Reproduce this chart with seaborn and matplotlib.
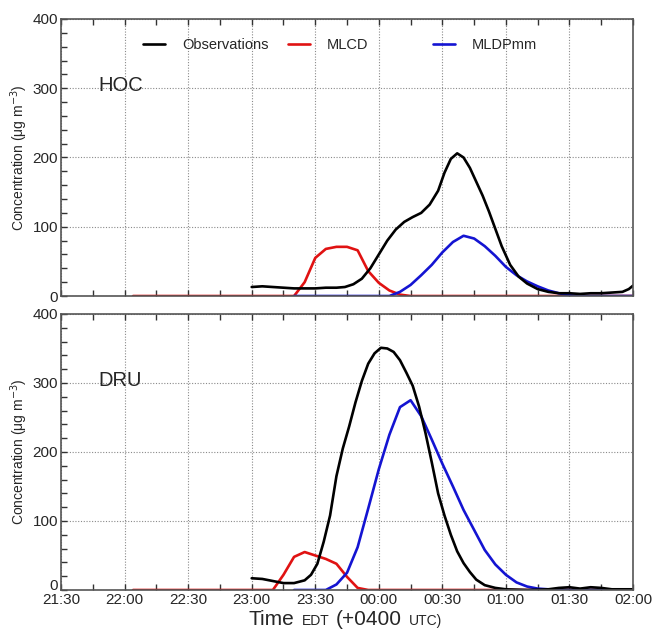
import numpy as np
import pandas as pd
import seaborn as sns
import matplotlib
matplotlib.use('Agg')
import matplotlib.pyplot as plt
import matplotlib.transforms as mtransforms
from matplotlib.ticker import MultipleLocator, FuncFormatter
from matplotlib.offsetbox import TextArea, HPacker, AnnotationBbox

# HOC station
hoc_obs_t = ["23:00", "23:05", "23:10", "23:15", "23:20", "23:25", "23:30", "23:35", "23:40", "23:44",
             "23:48", "23:52", "23:56", "00:00", "00:04", "00:08", "00:12", "00:16", "00:20", "00:24",
             "00:28", "00:31", "00:34", "00:37", "00:40", "00:43", "00:46", "00:49", "00:52", "00:55",
             "00:58", "01:02", "01:06", "01:10", "01:15", "01:20", "01:25", "01:30", "01:35", "01:40",
             "01:45", "01:50", "01:55", "01:58", "02:00"]
hoc_obs = [13, 14, 13, 12, 11, 11, 11, 12, 12, 13,
           17, 25, 40, 60, 80, 96, 107, 114, 120, 132,
           152, 178, 198, 206, 200, 185, 165, 145, 122, 97,
           72, 45, 28, 18, 10, 6, 4, 4, 3, 4,
           4, 5, 6, 10, 15]

hoc_mlcd_t = ["22:04", "23:20", "23:25", "23:30", "23:35", "23:40", "23:45", "23:50", "23:55",
              "00:00", "00:05", "00:10", "00:15", "02:00"]
hoc_mlcd = [0, 0, 20, 55, 68, 71, 71, 66, 36, 19, 8, 2, 0, 0]

hoc_mldp_t = ["23:20", "00:05", "00:10", "00:15", "00:20", "00:25", "00:30", "00:35", "00:40", "00:45",
              "00:50", "00:55", "01:00", "01:05", "01:10", "01:15", "01:20", "01:25", "01:30", "01:35",
              "02:00"]
hoc_mldp = [0, 0, 6, 16, 30, 45, 63, 78, 87, 83,
            72, 58, 42, 30, 21, 14, 8, 4, 1, 0,
            0]

# DRU station
dru_obs_t = ["23:00", "23:05", "23:10", "23:15", "23:20", "23:25", "23:28", "23:31", "23:34", "23:37",
             "23:40", "23:43", "23:46", "23:49", "23:52", "23:55", "23:58", "00:01", "00:04", "00:07",
             "00:10", "00:13", "00:16", "00:19", "00:22", "00:25", "00:28", "00:31", "00:34", "00:37",
             "00:40", "00:43", "00:46", "00:50", "00:55", "01:00", "01:10", "01:20", "01:25", "01:30",
             "01:35", "01:40", "01:45", "01:50", "02:00"]
dru_obs = [17, 16, 13, 10, 10, 14, 22, 38, 70, 108,
           165, 205, 237, 272, 303, 328, 343, 351, 350, 345,
           333, 315, 296, 266, 228, 185, 140, 108, 80, 56,
           39, 26, 15, 7, 3, 1, 0, 1, 3, 4,
           2, 4, 3, 1, 1]

dru_mlcd_t = ["22:04", "23:10", "23:15", "23:20", "23:25", "23:30", "23:35", "23:40", "23:45",
              "23:50", "23:55", "02:00"]
dru_mlcd = [0, 0, 22, 48, 55, 50, 45, 38, 19, 3, 0, 0]

dru_mldp_t = ["23:20", "23:35", "23:40", "23:45", "23:50", "23:55", "00:00", "00:05", "00:10", "00:15",
              "00:20", "00:25", "00:30", "00:35", "00:40", "00:45", "00:50", "00:55", "01:00", "01:05",
              "01:10", "01:15", "01:20", "01:25", "02:00"]
dru_mldp = [0, 0, 8, 25, 62, 118, 175, 225, 265, 275,
            252, 218, 183, 150, 116, 87, 58, 37, 22, 11,
            5, 2, 1, 0, 0]


def to_hours(t):
    h, m = [int(v) for v in t.split(":")]
    if h < 12:
        h += 24
    return h + m / 60.0


def fmt_time(x, pos):
    total = int(round(x * 60)) % (24 * 60)
    return "%02d:%02d" % (total // 60, total % 60)


sns.set_style("ticks")
plt.rcParams['font.family'] = ['Liberation Sans', 'DejaVu Sans']

colors = {"Observations": "black", "MLCD": "#e01212", "MLDPmm": "#1414d2"}

fig = plt.figure(figsize=(6.52, 6.37), dpi=100)
ax_top = fig.add_axes([0.0936, 0.5353, 0.8773, 0.4349])
ax_bot = fig.add_axes([0.0936, 0.0738, 0.8773, 0.4333])

panels = [
    (ax_top, "HOC", [("Observations", hoc_obs_t, hoc_obs), ("MLCD", hoc_mlcd_t, hoc_mlcd),
                     ("MLDPmm", hoc_mldp_t, hoc_mldp)]),
    (ax_bot, "DRU", [("Observations", dru_obs_t, dru_obs), ("MLCD", dru_mlcd_t, dru_mlcd),
                     ("MLDPmm", dru_mldp_t, dru_mldp)]),
]

for ax, name, series in panels:
    # draw models first so the observations lie on top
    for label, times, vals in series[1:] + series[:1]:
        df = pd.DataFrame({"time": [to_hours(t) for t in times], "conc": vals})
        sns.lineplot(data=df, x="time", y="conc", ax=ax, color=colors[label],
                     linewidth=1.9, label=label, legend=False, sort=False)
    ax.set_xlim(21.5, 26.0)
    ax.set_ylim(0, 400)
    ax.xaxis.set_major_locator(MultipleLocator(0.5))
    ax.xaxis.set_minor_locator(MultipleLocator(0.25))
    ax.yaxis.set_major_locator(MultipleLocator(100))
    ax.yaxis.set_minor_locator(MultipleLocator(20))
    ax.xaxis.set_major_formatter(FuncFormatter(fmt_time))
    ax.grid(True, which="major", linestyle=(0, (1, 1.5)), color="#8a8a8a", linewidth=0.8)
    ax.tick_params(which="both", direction="in", length=4, width=1, top=True, right=False,
                   labelsize=11, pad=2, color="#333333")
    for s in ax.spines.values():
        s.set_color("#555555")
        s.set_linewidth(1.2)
    ax.set_xlabel("")
    ax.set_ylabel("Concentration (μg m$^{-3}$)", fontsize=10, labelpad=2)
    ax.text(0.065, 0.76, name, transform=ax.transAxes, fontsize=14.5, va="center", ha="left")

ax_top.tick_params(labelbottom=False)
ax_bot.tick_params(axis="x", pad=2)

# lift the bottom "0" a touch so it does not sit on the 21:30 label
fig.canvas.draw()
for tick in ax_bot.yaxis.get_major_ticks():
    if abs(tick.get_loc()) < 1e-9:
        tick.label1.set_transform(tick.label1.get_transform() +
                                  mtransforms.ScaledTranslation(0, 4 / 72, fig.dpi_scale_trans))

# legend split in two groups, like the original
handles = {l.get_label(): l for l in ax_top.get_lines()}
leg1 = ax_top.legend([handles["Observations"], handles["MLCD"]], ["Observations", "MLCD"],
                     loc="center left", bbox_to_anchor=(0.143, 0.905), frameon=False,
                     fontsize=10.5, handlelength=1.5, handletextpad=1.2, ncol=2,
                     columnspacing=1.3, borderaxespad=0, borderpad=0)
ax_top.add_artist(leg1)
ax_top.legend([handles["MLDPmm"]], ["MLDPmm"], loc="center left", bbox_to_anchor=(0.65, 0.905),
              frameon=False, fontsize=10.5, handlelength=1.5, handletextpad=1.2,
              borderaxespad=0, borderpad=0)

# x label with small caps pieces
parts = [("Time", 15), ("EDT", 10), ("(+0400", 15), ("UTC)", 10)]
box = HPacker(children=[TextArea(t, textprops=dict(fontsize=s)) for t, s in parts],
              align="baseline", pad=0, sep=5)
ab = AnnotationBbox(box, (0.53, 0.012), xycoords="figure fraction", frameon=False,
                    box_alignment=(0.5, 0.0))
fig.add_artist(ab)

fig.savefig("out.png", dpi=100)
